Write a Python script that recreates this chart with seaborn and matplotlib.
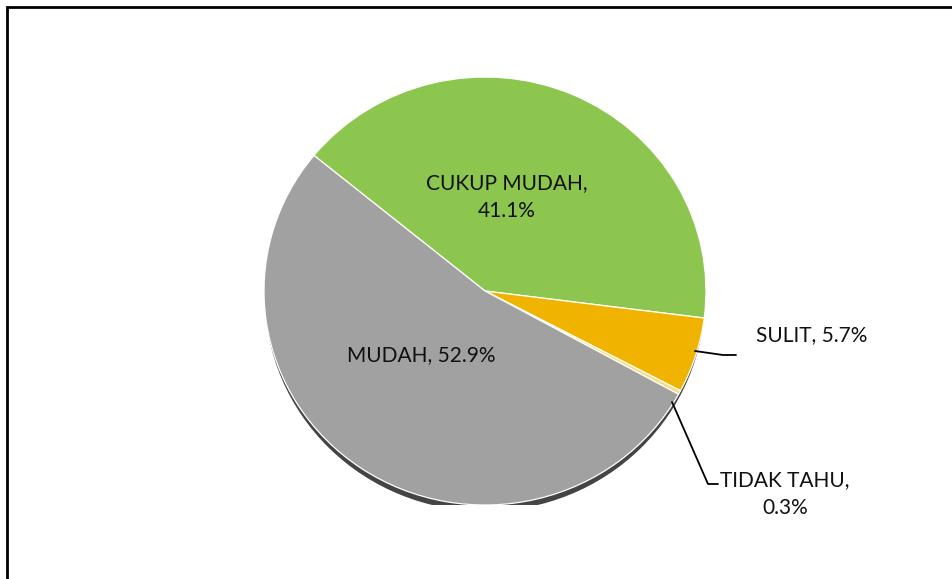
import matplotlib
matplotlib.use("Agg")
import matplotlib.pyplot as plt
import seaborn as sns
from matplotlib.patches import Ellipse, Rectangle

# data
categories = ["CUKUP MUDAH", "SULIT", "TIDAK TAHU", "MUDAH"]
percent = [41.1, 5.7, 0.3, 52.9]
colors = ["#8dc64f", "#f0b400", "#f7dc7a", "#a1a1a1"]

sns.set_theme(style="white")
plt.rcParams['font.family'] = ['Lato', 'DejaVu Sans']

W, H = 952, 579
fig = plt.figure(figsize=(W / 100, H / 100), dpi=100)

# pie centre / radii in pixels
cx, cy, rx, ry = 485, 291, 221, 214
ax = fig.add_axes([(cx - rx) / W, 1 - (cy + ry) / H, 2 * rx / W, 2 * ry / H])

# shadow under the pie
ax.add_patch(Ellipse((0, -0.026), 1.985, 2.0, color="#444444", zorder=0))

ax.pie(percent, colors=colors, startangle=140.7, counterclock=False, radius=1,
       wedgeprops=dict(edgecolor="white", linewidth=0.9, zorder=1))
ax.set_aspect('auto')
ax.set_xlim(-1, 1)
ax.set_ylim(-1, 1)
ax.axis('off')


def px(x, y):
    return (x - cx) / rx, (cy - y) / ry


def lab(i, sep=", "):
    return f"{categories[i]}{sep}{percent[i]:.1f}%"


txt = dict(ha='center', va='center', fontsize=15, color="#111111")
ax.text(*px(507, 197), lab(0, ",\n"), linespacing=1.45, **txt)
ax.text(*px(421, 355), lab(3), **txt)
ax.text(*px(812, 335), lab(1), **txt)
ax.text(*px(785, 494), lab(2, ",\n"), linespacing=1.45, **txt)

# leader lines
for pts in [[(695, 351), (723, 355), (736, 355)],
            [(672, 402), (708, 484), (718, 484)]]:
    xs, ys = zip(*[px(*p) for p in pts])
    ax.plot(xs, ys, color="black", lw=1.3, clip_on=False)

# outer frame (only left/top visible in the picture)
fig.add_artist(Rectangle((7 / W, -0.1), 1.2, 1 - 7 / H + 0.1, transform=fig.transFigure,
                         fill=False, edgecolor="black", lw=2))

fig.savefig("out.png", dpi=100)
